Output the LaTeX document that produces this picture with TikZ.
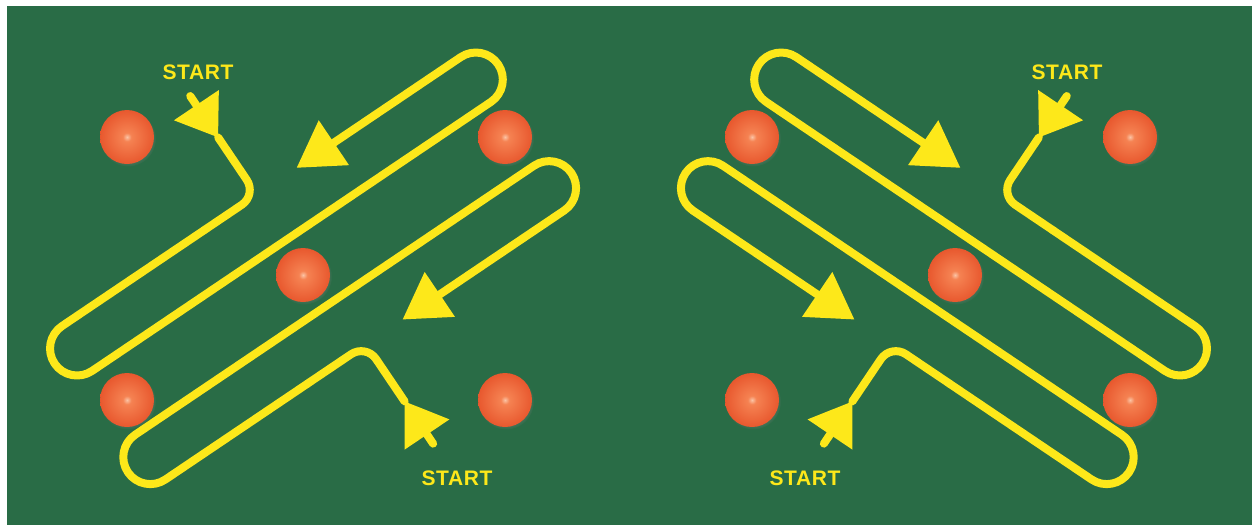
\documentclass[tikz,border=0pt]{standalone}
\usepackage{fontspec}
\setmainfont{Liberation Sans}
\newfontfamily\startfont[LetterSpace=3]{Liberation Sans}
\usetikzlibrary{arrows.meta,positioning,shadows}
\definecolor{FieldGreen}{RGB}{41,108,70}
\definecolor{TrackYellow}{RGB}{253,232,26}
\definecolor{BallHi}{RGB}{251,196,165}
\definecolor{BallMid}{RGB}{245,130,82}
\definecolor{BallRim}{RGB}{232,88,46}
\pgfdeclareradialshading{ballshade}{\pgfpoint{0bp}{0bp}}{color(0bp)=(BallHi); color(4bp)=(BallMid); color(25bp)=(BallRim); color(50bp)=(BallRim)}
\tikzset{
  track/.style={draw=TrackYellow,line width=8pt,line cap=round,line join=round},
  ball/.style={circle,minimum size=54pt,inner sep=0pt,shading=ballshade,
    circular drop shadow={shadow xshift=1pt,shadow yshift=-1.5pt,shadow scale=1.04,opacity=0.35}},
  starttext/.style={text=TrackYellow,inner sep=0pt,font=\startfont\bfseries\fontsize{21}{21}\selectfont},
  drill/.pic={
    \begin{scope}[rotate=34]
      \draw[track,-{Triangle[width=52pt,length=39pt]}] (104,186) -- (104,236);
      \draw[track,rounded corners=18pt] (104,236) -- (104,305) -- (40,305);
      \draw[track,rounded corners=27pt,-{Triangle[width=52pt,length=45pt]}]
        (40,305) -- (-158,305) -- (-158,359) -- (377,359) -- (377,305) -- (152,305);
      \draw[track,-{Triangle[width=52pt,length=40pt]}] (111,610) -- (111,559);
      \draw[track,rounded corners=18pt] (111,559) -- (111,490) -- (40,490);
      \draw[track,rounded corners=27pt,-{Triangle[width=52pt,length=45pt]}]
        (40,490) -- (-158,490) -- (-158,436) -- (377,436) -- (377,490) -- (155,490);
    \end{scope}
  }
}
\begin{document}
\begin{tikzpicture}[x=1pt,y=-1pt]
\useasboundingbox (0,0) rectangle (1252,525);
\fill[white] (0,0) rectangle (1252,525);
\fill[FieldGreen] (7,6) rectangle (1252,525);
\node[ball] (lnw) at (127,137) {};
\node[ball] (lne) at (505,137) {};
\node[ball] (lmid) at (303,275) {};
\node[ball] (lsw) at (127,400) {};
\node[ball] (lse) at (505,400) {};
\node[ball] (rnw) at (752,137) {};
\node[ball] (rne) at (1130,137) {};
\node[ball] (rmid) at (955,275) {};
\node[ball] (rsw) at (752,400) {};
\node[ball] (rse) at (1130,400) {};
\pic at (0,0) {drill};
\pic[xscale=-1] at (1257,0) {drill};
\node[starttext] (ltop) at (198,72) {START};
\node[starttext] (lbot) at (457,478) {START};
\node[starttext] (rtop) at (1067,72) {START};
\node[starttext] (rbot) at (805,478) {START};
\end{tikzpicture}
\end{document}
